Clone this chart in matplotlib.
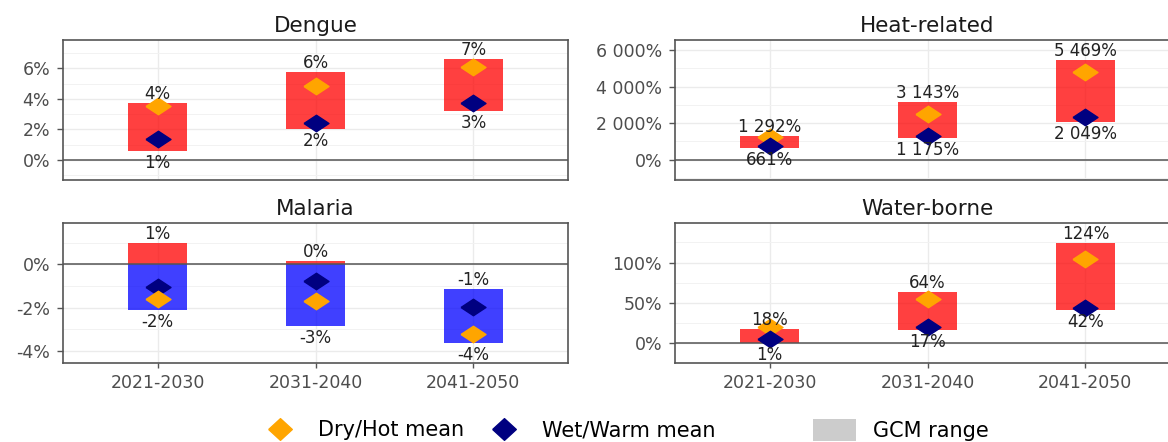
import numpy as np
import matplotlib
matplotlib.use("Agg")
import matplotlib.pyplot as plt
from matplotlib.lines import Line2D
from matplotlib.patches import Patch
from matplotlib.ticker import FuncFormatter, MultipleLocator, FixedLocator

periods = ["2021-2030", "2031-2040", "2041-2050"]

# GCM range (upper / lower) and scenario means, in percent
dengue_hi = [3.7, 5.75, 6.6]
dengue_lo = [0.55, 2.0, 3.2]
dengue_dry = [3.5, 4.85, 6.1]
dengue_wet = [1.35, 2.4, 3.7]

heat_hi = [1292, 3143, 5469]
heat_lo = [661, 1175, 2049]
heat_dry = [1260, 2480, 4770]
heat_wet = [765, 1290, 2315]

malaria_hi = [1.0, 0.15, -1.15]
malaria_lo = [-2.1, -2.85, -3.65]
malaria_dry = [-1.62, -1.71, -3.21]
malaria_wet = [-1.06, -0.79, -1.97]

water_hi = [18, 64, 124]
water_lo = [1, 17, 42]
water_dry = [19.8, 54.8, 104.6]
water_wet = [5.8, 20.2, 43.7]

ORANGE = "#FFA500"
NAVY = "#000080"
BORDER = "#555555"
TICK_COL = "#4D4D4D"

W, H = 1168, 442
PLOT_DIAMOND = [(-1, 0), (0, 0.66), (1, 0), (0, -0.66), (-1, 0)]
LEG_DIAMOND = [(-1, 0), (0, 0.92), (1, 0), (0, -0.92), (-1, 0)]


def pct(v, pos=None):
    return f"{v:,.0f}".replace(",", " ") + "%"


def draw_panel(ax, hi, lo, dry, wet, title, ylim, major, minor, bottom_row):
    x = np.arange(len(periods))
    for xi, h, l in zip(x, hi, lo):
        # part above zero red, part below zero blue
        if h > 0:
            b = max(l, 0)
            ax.bar(xi, h - b, bottom=b, width=0.37, color="red", alpha=0.75,
                   lw=0, zorder=2)
        if l < 0:
            t = min(h, 0)
            ax.bar(xi, t - l, bottom=l, width=0.37, color="blue", alpha=0.75,
                   lw=0, zorder=2)
        ax.annotate(pct(h), (xi, h), xytext=(0, 6.5), textcoords="offset points",
                    ha="center", va="center", fontsize=12, color="#222222", zorder=5)
        ax.annotate(pct(l), (xi, l), xytext=(0, -8.7), textcoords="offset points",
                    ha="center", va="center", fontsize=12, color="#222222", zorder=5)
    ax.axhline(0, color=BORDER, lw=1.1, zorder=3)
    # the lower of the two means ends up drawn on top
    dry_z, wet_z = (4.5, 4) if np.mean(dry) < np.mean(wet) else (4, 4.5)
    ax.plot(x, dry, ls="none", marker=PLOT_DIAMOND, ms=18, color=ORANGE, zorder=dry_z)
    ax.plot(x, wet, ls="none", marker=PLOT_DIAMOND, ms=18, color=NAVY, zorder=wet_z)

    ax.set_xlim(-0.6, 2.6)
    ax.set_ylim(*ylim)
    ax.xaxis.set_major_locator(FixedLocator(x))
    ax.yaxis.set_major_locator(MultipleLocator(major))
    ax.yaxis.set_minor_locator(MultipleLocator(minor))
    ax.yaxis.set_major_formatter(FuncFormatter(pct))
    ax.set_axisbelow(True)
    ax.grid(which="major", color="#EBEBEB", lw=1.0, zorder=0)
    ax.grid(which="minor", axis="y", color="#F2F2F2", lw=0.7, zorder=0)
    ax.tick_params(axis="y", which="major", length=4.3, width=1, color=BORDER,
                   labelsize=12.5, labelcolor=TICK_COL, pad=5)
    ax.tick_params(which="minor", length=0)
    if bottom_row:
        ax.set_xticklabels(periods)
        ax.tick_params(axis="x", length=3.6, width=1, color=BORDER,
                       labelsize=12.5, labelcolor=TICK_COL, pad=4.5)
    else:
        ax.tick_params(axis="x", length=0, labelbottom=False)
    for s in ax.spines.values():
        s.set_color(BORDER)
        s.set_linewidth(1.2)
    ax.set_title(title, fontsize=15.5, color="#1A1A1A", pad=6)


fig = plt.figure(figsize=(W / 100, H / 100), dpi=100)


def add_axes(x0, x1, y0, y1):
    return fig.add_axes([x0 / W, 1 - y1 / H, (x1 - x0) / W, (y1 - y0) / H])


ax_d = add_axes(63, 568, 40, 180)
ax_h = add_axes(675, 1180, 40, 180)
ax_m = add_axes(63, 568, 223, 363)
ax_w = add_axes(675, 1180, 223, 363)

draw_panel(ax_d, dengue_hi, dengue_lo, dengue_dry, dengue_wet, "Dengue",
           (-1.33, 7.86), 2, 1, False)
draw_panel(ax_h, heat_hi, heat_lo, heat_dry, heat_wet, "Heat-related",
           (-1110, 6547), 2000, 1000, False)
draw_panel(ax_m, malaria_hi, malaria_lo, malaria_dry, malaria_wet, "Malaria",
           (-4.57, 1.92), 2, 1, True)
draw_panel(ax_w, water_hi, water_lo, water_dry, water_wet, "Water-borne",
           (-24.2, 149.1), 50, 25, True)

dry_h = Line2D([], [], ls="none", marker=LEG_DIAMOND, ms=17, color=ORANGE)
wet_h = Line2D([], [], ls="none", marker=LEG_DIAMOND, ms=17, color=NAVY)
fig.legend(handles=[dry_h, wet_h], labels=["Dry/Hot mean", "Wet/Warm mean"],
           loc="center left", bbox_to_anchor=(268 / W, 1 - 430 / H), ncol=2,
           frameon=False, fontsize=15, handlelength=1.15, handletextpad=1.25,
           columnspacing=1.35, borderpad=0, borderaxespad=0)
gcm_h = Patch(facecolor="#CCCCCC", edgecolor="none")
fig.legend(handles=[gcm_h], labels=["GCM range"], loc="center left",
           bbox_to_anchor=(813 / W, 1 - 430 / H), frameon=False, fontsize=15,
           handlelength=2.07, handleheight=1.3, handletextpad=0.8,
           borderpad=0, borderaxespad=0)

fig.savefig("out.png", dpi=100)
